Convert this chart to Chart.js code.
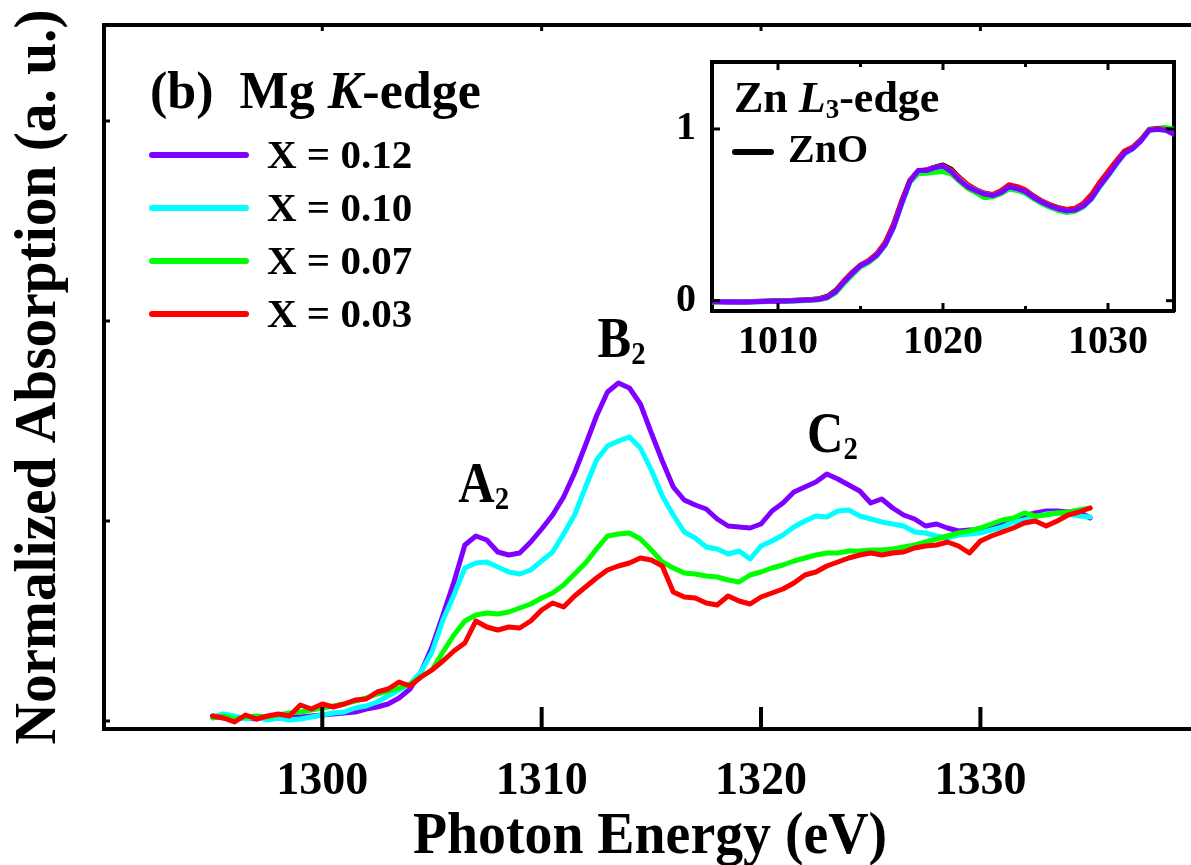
<!DOCTYPE html>
<html><head><meta charset="utf-8">
<script src="https://cdn.jsdelivr.net/npm/chart.js@4.4.1/dist/chart.umd.min.js"></script>
<style>
html,body{margin:0;padding:0;background:#fff;overflow:hidden;}
#wrap{position:relative;width:1191px;height:865px;background:#fff;}
#main{position:absolute;left:0;top:0;}
#inset{position:absolute;left:640px;top:30px;}
</style></head><body>
<div id="wrap"><canvas id="main" width="1191" height="865"></canvas><canvas id="inset" width="545" height="340"></canvas></div>
<script>
// ---------- Main panel data: Mg K-edge ----------
const energy = [1295,1295.5,1296,1296.5,1297,1297.5,1298,1298.5,1299,1299.5,
1300,1300.5,1301,1301.5,1302,1302.5,1303,1303.5,1304,1304.5,
1305,1305.5,1306,1306.5,1307,1307.5,1308,1308.5,1309,1309.5,
1310,1310.5,1311,1311.5,1312,1312.5,1313,1313.5,1314,1314.5,
1315,1315.5,1316,1316.5,1317,1317.5,1318,1318.5,1319,1319.5,
1320,1320.5,1321,1321.5,1322,1322.5,1323,1323.5,1324,1324.5,
1325,1325.5,1326,1326.5,1327,1327.5,1328,1328.5,1329,1329.5,
1330,1330.5,1331,1331.5,1332,1332.5,1333,1333.5,1334,1334.5,
1335];
const mg012 = [0.025,0.015,0.02,0.015,0.01,0.02,0.015,0.025,0.02,0.025,
0.03,0.035,0.04,0.045,0.06,0.07,0.085,0.115,0.16,0.245,
0.37,0.53,0.695,0.88,0.925,0.905,0.845,0.83,0.84,0.895,
0.96,1.03,1.12,1.24,1.38,1.525,1.645,1.69,1.665,1.585,
1.44,1.30,1.17,1.105,1.08,1.06,1.01,0.975,0.97,0.965,
0.985,1.05,1.09,1.145,1.17,1.195,1.235,1.21,1.18,1.15,
1.09,1.11,1.065,1.03,1.01,0.975,0.985,0.965,0.95,0.955,
0.955,0.965,0.985,1.01,1.025,1.04,1.05,1.05,1.045,1.045,
1.015];
const mg010 = [0.02,0.035,0.025,0.01,0.02,0.005,0.015,0.005,0.01,0.02,
0.03,0.04,0.045,0.065,0.075,0.095,0.125,0.155,0.185,0.245,
0.345,0.505,0.63,0.765,0.79,0.795,0.77,0.745,0.735,0.755,
0.80,0.845,0.935,1.03,1.17,1.305,1.375,1.40,1.42,1.365,
1.255,1.125,1.03,0.945,0.915,0.87,0.86,0.835,0.85,0.81,
0.875,0.90,0.93,0.97,1.00,1.025,1.02,1.05,1.055,1.025,
1.01,0.995,0.985,0.975,0.945,0.94,0.925,0.915,0.93,0.935,
0.94,0.955,0.97,0.995,1.005,1.02,1.035,1.04,1.035,1.025,
1.02];
const mg007 = [0.015,0.025,0.01,0.02,0.025,0.02,0.03,0.04,0.045,0.055,
0.065,0.075,0.085,0.10,0.115,0.135,0.15,0.165,0.185,0.22,
0.255,0.345,0.43,0.50,0.53,0.54,0.535,0.545,0.565,0.585,
0.615,0.64,0.68,0.735,0.79,0.86,0.925,0.935,0.94,0.91,
0.855,0.795,0.765,0.74,0.735,0.725,0.72,0.705,0.695,0.73,
0.745,0.765,0.78,0.80,0.815,0.83,0.84,0.84,0.85,0.85,
0.855,0.855,0.86,0.87,0.88,0.895,0.91,0.925,0.94,0.95,
0.965,0.985,1.005,1.015,1.04,1.025,1.03,1.04,1.045,1.055,
1.065];
const mg003 = [0.025,0.015,-0.005,0.03,0.01,0.025,0.035,0.025,0.08,0.06,
0.085,0.07,0.085,0.105,0.11,0.145,0.16,0.195,0.175,0.22,
0.255,0.30,0.35,0.39,0.50,0.47,0.455,0.47,0.465,0.50,
0.555,0.59,0.57,0.625,0.67,0.715,0.755,0.775,0.79,0.815,
0.805,0.775,0.645,0.62,0.615,0.59,0.58,0.625,0.60,0.585,
0.62,0.64,0.66,0.69,0.73,0.745,0.775,0.795,0.815,0.83,
0.84,0.83,0.84,0.845,0.865,0.875,0.88,0.895,0.875,0.84,
0.90,0.925,0.945,0.965,0.99,1.00,0.975,1.00,1.03,1.045,
1.065];
const seriesLabels = ['X = 0.12','X = 0.10','X = 0.07','X = 0.03'];
const seriesColors = ['#8000ff','#00ffff','#00ff00','#ff0000'];
const xTicks = [1300,1310,1320,1330];
const yTicks = [0,1,2,3];

// ---------- Inset data: Zn L3-edge ----------
const znEnergy = [1006,1006.5,1007,1007.5,1008,1008.5,1009,1009.5,1010,1010.5,
1011,1011.5,1012,1012.5,1013,1013.5,1014,1014.5,1015,1015.5,
1016,1016.5,1017,1017.5,1018,1018.5,1019,1019.5,1020,1020.5,
1021,1021.5,1022,1022.5,1023,1023.5,1024,1024.5,1025,1025.5,
1026,1026.5,1027,1027.5,1028,1028.5,1029,1029.5,1030,1030.5,
1031,1031.5,1032,1032.5,1033,1033.5,1034];
const znZnO = [-0.004,-0.005,-0.006,-0.006,-0.007,-0.005,-0.003,-0.002,-0.001,0,
0.002,0.004,0.007,0.012,0.026,0.060,0.114,0.163,0.206,0.232,
0.272,0.336,0.440,0.578,0.700,0.755,0.760,0.778,0.790,0.765,
0.715,0.672,0.645,0.624,0.615,0.633,0.668,0.658,0.640,0.606,
0.578,0.556,0.540,0.530,0.536,0.561,0.610,0.680,0.742,0.806,
0.866,0.892,0.936,0.996,1.002,0.996,0.980];
const zn003 = [-0.005,-0.006,-0.006,-0.007,-0.007,-0.005,-0.004,-0.003,-0.002,-0.001,
0.001,0.003,0.006,0.010,0.024,0.058,0.116,0.165,0.207,0.234,
0.275,0.340,0.445,0.582,0.702,0.757,0.762,0.776,0.786,0.760,
0.718,0.676,0.648,0.627,0.618,0.640,0.675,0.664,0.645,0.610,
0.580,0.558,0.541,0.531,0.538,0.566,0.618,0.690,0.752,0.815,
0.872,0.895,0.938,0.997,1.003,0.997,0.982];
const zn007 = [-0.007,-0.007,-0.008,-0.008,-0.009,-0.008,-0.006,-0.005,-0.005,-0.004,
-0.002,0,0.002,0.006,0.016,0.046,0.100,0.150,0.196,0.222,
0.262,0.324,0.428,0.566,0.690,0.740,0.742,0.748,0.752,0.738,
0.695,0.655,0.628,0.600,0.605,0.622,0.650,0.642,0.625,0.593,
0.565,0.543,0.525,0.513,0.520,0.546,0.592,0.664,0.728,0.795,
0.856,0.888,0.935,0.998,1.004,1.008,1.000];
const zn010 = [-0.006,-0.006,-0.007,-0.007,-0.008,-0.006,-0.004,-0.003,-0.003,-0.002,
0,0.002,0.004,0.008,0.019,0.051,0.106,0.156,0.201,0.227,
0.264,0.324,0.424,0.563,0.692,0.756,0.757,0.774,0.781,0.752,
0.704,0.665,0.642,0.622,0.612,0.628,0.660,0.650,0.633,0.600,
0.572,0.550,0.532,0.521,0.526,0.549,0.593,0.664,0.726,0.793,
0.855,0.884,0.930,0.992,0.997,0.993,0.972];
const zn012 = [-0.006,-0.006,-0.007,-0.007,-0.008,-0.006,-0.004,-0.003,-0.003,-0.002,
0,0.002,0.004,0.008,0.020,0.053,0.109,0.159,0.204,0.229,
0.266,0.327,0.428,0.568,0.696,0.758,0.758,0.775,0.783,0.752,
0.702,0.663,0.640,0.621,0.612,0.629,0.663,0.652,0.635,0.601,
0.573,0.551,0.534,0.523,0.528,0.551,0.596,0.668,0.730,0.797,
0.859,0.886,0.931,0.993,0.998,0.993,0.970];
const znXTicks = [1010,1020,1030];
const znXMinor = [1015,1025];
const znYTicks = [0,1];

// ---------- Texts ----------
const xTitle = 'Photon Energy (eV)';
const yTitle = 'Normalized Absorption (a. u.)';
const panelTitle = [{text:'(b)  Mg '},{text:'K',italic:true},{text:'-edge'}];
const insetTitle = [{text:'Zn '},{text:'L',italic:true},{text:'3',size:27,dy:6},{text:'-edge'}];
const insetRef = 'ZnO';
const peakLabels = [
  {main:'A', sub:'2', x:1306.2, y:1.095},
  {main:'B', sub:'2', x:1312.55, y:1.82},
  {main:'C', sub:'2', x:1322.1, y:1.345}
];

const FONT = '"Liberation Serif", "Times New Roman", serif';
Chart.defaults.font.family = FONT;
Chart.defaults.color = '#000';

function fnt(size, italic){ return (italic?'italic ':'') + 'bold ' + size + 'px ' + FONT; }
function drawRich(ctx, x, y, segs, base, sx, align){
  ctx.save();
  ctx.translate(x, y);
  ctx.scale(sx || 1, 1);
  ctx.textBaseline = 'alphabetic';
  ctx.textAlign = 'left';
  ctx.fillStyle = '#000';
  let total = 0;
  segs.forEach(s => { ctx.font = fnt(s.size || base, s.italic); total += ctx.measureText(s.text).width; });
  let cx = align === 'center' ? -total/2 : 0;
  segs.forEach(s => { ctx.font = fnt(s.size || base, s.italic); ctx.fillText(s.text, cx, s.dy || 0); cx += ctx.measureText(s.text).width; });
  ctx.restore();
}
function seg(ctx, x1, y1, x2, y2){ ctx.beginPath(); ctx.moveTo(x1,y1); ctx.lineTo(x2,y2); ctx.stroke(); }

const mainDecor = {
  id:'mainDecor',
  afterDraw(chart){
    const {ctx, chartArea:ca} = chart;
    const sx = chart.scales.x, sy = chart.scales.y;
    ctx.save();
    ctx.strokeStyle = '#000';
    ctx.lineWidth = 4;
    xTicks.forEach(v => { const p = sx.getPixelForValue(v); seg(ctx, p, ca.bottom, p, ca.bottom - 22); });
    ctx.lineWidth = 3;
    xTicks.forEach(v => { const p = sx.getPixelForValue(v); seg(ctx, p, ca.top, p, ca.top + 6); });
    yTicks.forEach(v => { const p = sy.getPixelForValue(v); seg(ctx, ca.left, p, ca.left + 6, p); });
    // legend
    ctx.lineCap = 'round';
    ctx.lineWidth = 6;
    chart.data.datasets.forEach((d, i) => {
      const ly = 155 + i * 53;
      ctx.strokeStyle = d.borderColor;
      seg(ctx, 152, ly, 246, ly);
      drawRich(ctx, 267, ly + 13, [{text:d.label}], 41, 1);
    });
    ctx.restore();
    // panel title
    drawRich(ctx, 150, 108, panelTitle, 52, 1);
    // peak labels
    peakLabels.forEach(p => {
      drawRich(ctx, sx.getPixelForValue(p.x), sy.getPixelForValue(p.y),
        [{text:p.main, size:56},{text:p.sub, size:32, dy:7}], 56, 0.9);
    });
    // axis titles
    drawRich(ctx, 650, 853, [{text:xTitle}], 60, 0.93, 'center');
    ctx.save();
    ctx.translate(55, 377);
    ctx.rotate(-Math.PI/2);
    drawRich(ctx, 0, 0, [{text:yTitle}], 59, 0.973, 'center');
    ctx.restore();
  }
};

const mainSeries = [mg012, mg010, mg007, mg003];
const mainOrder = [4,3,2,1];
const border = {display:true, width:4, color:'#000'};
new Chart(document.getElementById('main'), {
  type:'line',
  data:{
    datasets: mainSeries.map((s, i) => ({
      label: seriesLabels[i],
      data: energy.map((e, k) => ({x:e, y:s[k]})),
      borderColor: seriesColors[i],
      order: mainOrder[i],
      borderWidth: 5
    }))
  },
  options:{
    responsive:false, animation:false, events:[],
    layout:{padding:0},
    plugins:{legend:{display:false}, tooltip:{enabled:false}},
    elements:{point:{radius:0}, line:{tension:0, borderJoinStyle:'round', borderCapStyle:'round', fill:false}},
    scales:{
      x:{type:'linear', position:'bottom', min:1290.05, max:1339.6,
         afterBuildTicks: s => { s.ticks = xTicks.map(v => ({value:v})); },
         afterFit: s => { s.height = 136; },
         grid:{display:false}, border:border,
         ticks:{font:{family:FONT, weight:'bold', size:46}, color:'#000', padding:18, maxRotation:0, autoSkip:false, callback: v => String(v)}},
      xTop:{type:'linear', position:'top', min:1290.05, max:1339.6,
         ticks:{display:false}, grid:{display:false}, border:border,
         afterFit: s => { s.height = 25; }},
      y:{type:'linear', position:'left', min:-0.04, max:3.48,
         afterBuildTicks: s => { s.ticks = yTicks.map(v => ({value:v})); },
         ticks:{display:false}, grid:{display:false}, border:border,
         afterFit: s => { s.width = 104; }}
    }
  },
  plugins:[mainDecor]
});

// ---------- Inset ----------
const insetDecor = {
  id:'insetDecor',
  afterDraw(chart){
    const {ctx, chartArea:ca} = chart;
    const sx = chart.scales.x, sy = chart.scales.y;
    ctx.save();
    ctx.strokeStyle = '#000';
    ctx.lineWidth = 3;
    znXTicks.forEach(v => { const p = sx.getPixelForValue(v); seg(ctx, p, ca.bottom, p, ca.bottom - 8); seg(ctx, p, ca.top, p, ca.top + 8); });
    znXMinor.forEach(v => { const p = sx.getPixelForValue(v); seg(ctx, p, ca.bottom, p, ca.bottom - 5); seg(ctx, p, ca.top, p, ca.top + 5); });
    znYTicks.forEach(v => { const p = sy.getPixelForValue(v); seg(ctx, ca.left, p, ca.left + 8, p); seg(ctx, ca.right, p, ca.right - 8, p); });
    ctx.lineCap = 'round';
    ctx.lineWidth = 6;
    seg(ctx, 735 - 640, 152 - 30, 771 - 640, 152 - 30);
    ctx.restore();
    drawRich(ctx, 734 - 640, 112 - 30, insetTitle, 44, 1);
    drawRich(ctx, 788 - 640, 162 - 30, [{text:insetRef}], 40, 1);
  }
};
const znSeries = [zn012, zn010, zn003, zn007, znZnO];
const znColors = ['#8000ff','#00ffff','#ff0000','#00ff00','#000000'];
const znOrder = [1,2,3,4,5];
new Chart(document.getElementById('inset'), {
  type:'line',
  data:{
    datasets: znSeries.map((s, i) => ({
      label: i === 4 ? 'ZnO' : seriesLabels[[0,1,3,2][i]],
      data: znEnergy.map((e, k) => ({x:e, y:s[k]})),
      borderColor: znColors[i],
      order: znOrder[i],
      borderWidth: 5
    }))
  },
  options:{
    responsive:false, animation:false, events:[],
    layout:{padding:0},
    plugins:{legend:{display:false}, tooltip:{enabled:false}},
    elements:{point:{radius:0}, line:{tension:0, borderJoinStyle:'round', borderCapStyle:'round', fill:false}},
    scales:{
      x:{type:'linear', position:'bottom', min:1006, max:1034,
         afterBuildTicks: s => { s.ticks = znXTicks.map(v => ({value:v})); },
         afterFit: s => { s.height = 59; },
         grid:{display:false}, border:border,
         ticks:{font:{family:FONT, weight:'bold', size:40}, color:'#000', padding:0, maxRotation:0, autoSkip:false, callback: v => String(v)}},
      x2:{type:'linear', position:'top', min:1006, max:1034,
         ticks:{display:false}, grid:{display:false}, border:border,
         afterFit: s => { s.height = 22; }},
      y:{type:'linear', position:'left', min:-0.06, max:1.39,
         afterBuildTicks: s => { s.ticks = znYTicks.map(v => ({value:v})); },
         afterFit: s => { s.width = 72; },
         grid:{display:false}, border:border,
         ticks:{font:{family:FONT, weight:'bold', size:40}, color:'#000', padding:8, callback: v => String(v)}},
      y2:{type:'linear', position:'right', min:-0.06, max:1.39,
         ticks:{display:false}, grid:{display:false}, border:border,
         afterFit: s => { s.width = 11; }}
    }
  },
  plugins:[insetDecor]
});
</script>
</body></html>
